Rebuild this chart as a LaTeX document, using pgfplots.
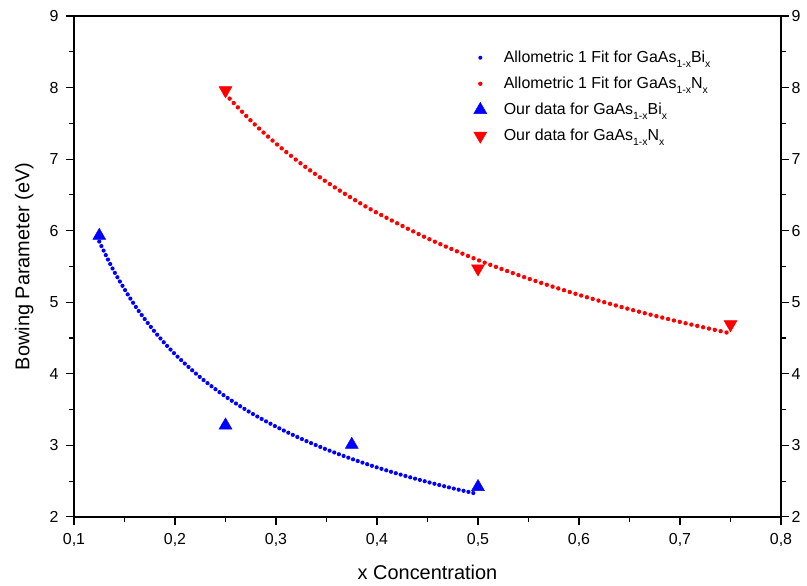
\documentclass[border=0pt]{standalone}
\usepackage{fontspec}
\setmainfont{Liberation Sans}
\usepackage{pgfplots}
\pgfplotsset{compat=1.18}
\newcommand\sub[1]{\raisebox{-0.55ex}{\fontsize{10.5}{12}\selectfont #1}}
\newcommand\lf{\fontsize{16}{19}\selectfont}
\begin{document}
\begin{tikzpicture}
\pgfplotsset{
 common/.style={
  width=707bp, height=501bp, scale only axis,
  xmin=0.1, xmax=0.8, ymin=2, ymax=9,
  tick align=outside,
  major tick length=8bp, minor tick length=5bp,
  every tick/.style={black, line width=1.1pt},
  axis line style={line width=1.2pt},
  tick label style={font=\fontsize{16}{18}\selectfont},
  /pgf/number format/assume math mode=true,
  ytick={2,3,4,5,6,7,8,9}, minor y tick num=1,
 }}
\begin{axis}[common,
  xtick={0.1,0.2,0.3,0.4,0.5,0.6,0.7,0.8}, minor x tick num=1,
  xtick pos=bottom, ytick pos=left,
  xticklabel style={yshift=-5bp, /pgf/number format/.cd, fixed, fixed zerofill, precision=1, use comma},
  yticklabel style={xshift=-4bp},
  xlabel={x Concentration}, ylabel={Bowing Parameter (eV)},
  label style={font=\fontsize{20}{24}\selectfont},
  xlabel style={at={(axis description cs:0.5,-0.11)}, anchor=center},
  ylabel style={at={(axis description cs:-0.0705,0.5)}, anchor=center, rotate=0},
  legend style={draw=none, fill=none, at={(0.561,0.938)}, anchor=north west,
    row sep=9bp,
    /tikz/every odd column/.append style={column sep=15bp}},
  legend cell align=left,
]
\addplot[blue, line width=4.2bp, line cap=round, dash pattern=on 0pt off 5bp, smooth,
  legend image code/.code={\path[fill=blue, draw=none, solid] (0.3cm,0cm) circle (2bp);}]
 coordinates {(0.125,5.848)(0.14,5.422)(0.16,4.960)(0.18,4.586)(0.20,4.274)(0.225,3.951)
 (0.25,3.683)(0.275,3.456)(0.30,3.262)(0.325,3.092)(0.35,2.943)(0.375,2.811)(0.40,2.692)
 (0.425,2.585)(0.45,2.489)(0.475,2.400)(0.50,2.320)};
\addlegendentry{\lf Allometric 1 Fit for GaAs\sub{1-x}Bi\sub{x}}
\addplot[red, line width=4.4bp, line cap=round, dash pattern=on 0pt off 6bp, smooth,
  legend image code/.code={\path[fill=red, draw=none, solid] (0.3cm,0cm) circle (2.2bp);}]
 coordinates {(0.25,7.906)(0.275,7.538)(0.30,7.217)(0.325,6.934)(0.35,6.682)(0.375,6.455)
 (0.40,6.250)(0.45,5.893)(0.50,5.590)(0.55,5.330)(0.60,5.103)(0.65,4.903)(0.70,4.725)(0.75,4.565)};
\addlegendentry{\lf Allometric 1 Fit for GaAs\sub{1-x}N\sub{x}}
\addplot[only marks, blue, mark=triangle*, mark size=7.5bp]
 coordinates {(0.125,5.93)(0.25,3.28)(0.375,3.01)(0.5,2.42)};
\addlegendentry{\lf Our data for GaAs\sub{1-x}Bi\sub{x}}
\addplot[only marks, red, mark=triangle*, mark size=7.5bp, every mark/.append style={rotate=180}]
 coordinates {(0.25,7.96)(0.5,5.47)(0.75,4.69)};
\addlegendentry{\lf Our data for GaAs\sub{1-x}N\sub{x}}
\end{axis}
\begin{axis}[common, hide x axis, axis y line*=right, ytick pos=right,
  yticklabel style={xshift=-1bp}]
\coordinate (ll) at (rel axis cs:-0.1047,-0.1377);
\coordinate (ur) at (rel axis cs:1.0368,1.0319);
\end{axis}
\path (ll) rectangle (ur);
\end{tikzpicture}
\end{document}
